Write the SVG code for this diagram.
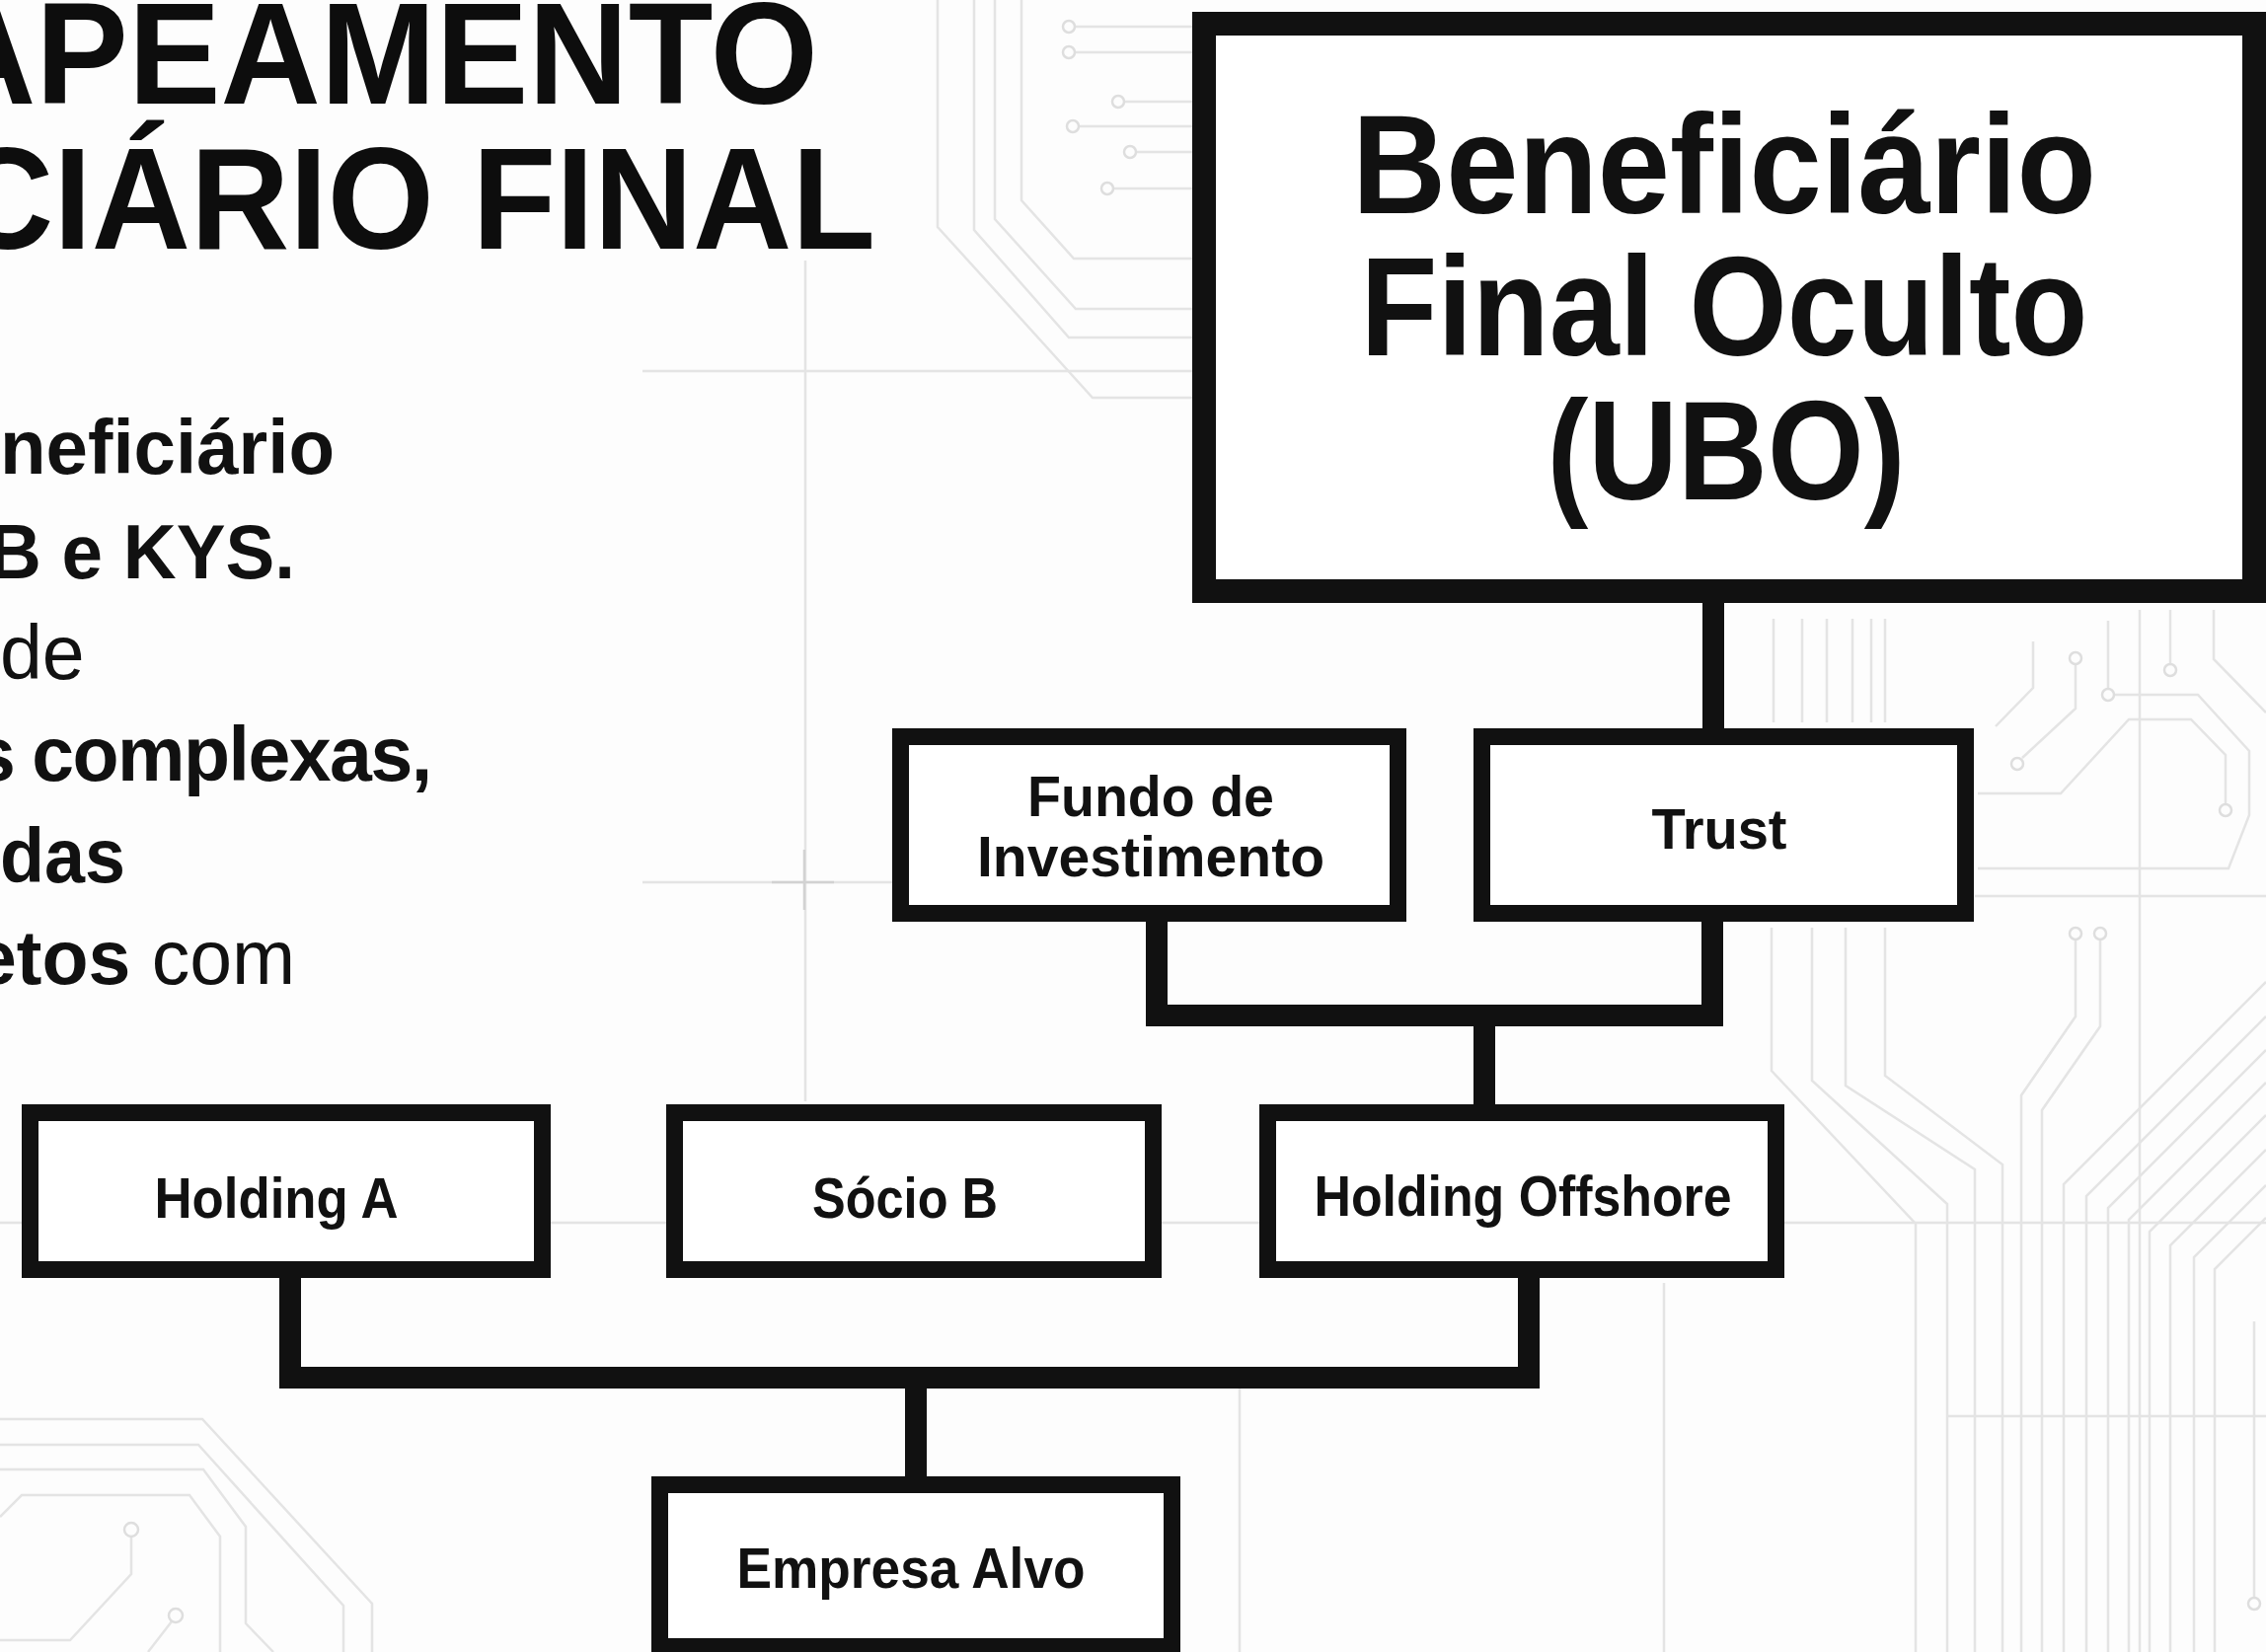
<svg xmlns="http://www.w3.org/2000/svg" width="2296" height="1674" viewBox="0 0 2296 1674">
<defs>
<style>
.bg{fill:#fdfdfd}
.tr{fill:none;stroke:#e4e4e4;stroke-width:2.5}
.pad{fill:#fdfdfd;stroke:#dedede;stroke-width:2.5}
.cross{fill:none;stroke:#d2d2d2;stroke-width:2.5}
.box{fill:#ffffff;stroke:#111111;stroke-width:17}
.ubo{fill:#ffffff;stroke:#111111;stroke-width:24}
.conn{fill:none;stroke:#111111;stroke-width:22;stroke-linejoin:miter;stroke-linecap:butt}
.nt{font-family:"Liberation Sans",Arial,Helvetica,sans-serif;font-weight:700;font-size:57px;fill:#111111;text-anchor:middle}
.ut{font-family:"Liberation Sans",Arial,Helvetica,sans-serif;font-weight:700;font-size:142px;fill:#111111;text-anchor:middle}
.title{font-family:"Liberation Sans",Arial,Helvetica,sans-serif;font-weight:700;font-size:146px;fill:#0d0d0d}
.para{font-family:"Liberation Sans",Arial,Helvetica,sans-serif;font-size:77px;fill:#111111}
.b{font-weight:700}
.r{font-weight:400}
</style>
</defs>
<rect class="bg" x="0" y="0" width="2296" height="1674"/>

<g id="background">
<path class="tr" d="M950 0 V230 L1107 403 H1208"/>
<path class="tr" d="M987 0 V233 L1083 342 H1208"/>
<path class="tr" d="M1008 0 V222 L1090 313 H1208"/>
<path class="tr" d="M1035 0 V203 L1088 262 H1208"/>
<path class="tr" d="M1089 27 H1208 M1089 53 H1208 M1139 103 H1208 M1093 128 H1208 M1151 154 H1208 M1128 191 H1208"/>
<circle class="pad" cx="1083" cy="27" r="6"/>
<circle class="pad" cx="1083" cy="53" r="6"/>
<circle class="pad" cx="1133" cy="103" r="6"/>
<circle class="pad" cx="1087" cy="128" r="6"/>
<circle class="pad" cx="1145" cy="154" r="6"/>
<circle class="pad" cx="1122" cy="191" r="6"/>
<path class="tr" d="M651 376 H1208"/>
<path class="tr" d="M816 264 V1116"/>
<path class="tr" d="M651 894 H904"/>
<path class="cross" d="M782 894 H845 M815 861 V922"/>
<path class="tr" d="M0 1239 H2296"/>
<path class="tr" d="M1256 1400 V1674 M1686 1300 V1674"/>

<path class="tr" d="M1797 627 V732 M1826 627 V732 M1851 627 V732 M1877 627 V732 M1896 627 V732 M1910 627 V732"/>
<path class="tr" d="M1795 940 V1085 L1941 1240 V1674"/>
<path class="tr" d="M1836 940 V1095 L1973 1220 V1674"/>
<path class="tr" d="M1870 940 V1100 L2001 1185 V1674"/>
<path class="tr" d="M1910 940 V1090 L2029 1180 V1674"/>
<path class="tr" d="M2103 952 V1030 L2048 1110 V1674"/>
<path class="tr" d="M2128 952 V1040 L2069 1125 V1674"/>
<circle class="pad" cx="2103" cy="946" r="6"/>
<circle class="pad" cx="2128" cy="946" r="6"/>
<path class="tr" d="M2296 995 L2091 1200 V1674"/>
<path class="tr" d="M2296 1030 L2114 1212 V1674"/>
<path class="tr" d="M2296 1064 L2136 1224 V1674"/>
<path class="tr" d="M2296 1097 L2157 1236 V1674"/>
<path class="tr" d="M2296 1130 L2178 1248 V1674"/>
<path class="tr" d="M2296 1165 L2199 1262 V1674"/>
<path class="tr" d="M2296 1201 L2223 1274 V1674"/>
<path class="tr" d="M2296 1234 L2244 1286 V1674"/>
<path class="tr" d="M2060 650 V697 L2022 736"/>
<path class="tr" d="M2103 673 V718 L2049 768"/>
<circle class="pad" cx="2103" cy="667" r="6"/>
<circle class="pad" cx="2044" cy="774" r="6"/>
<path class="tr" d="M2136 629 V698 M2142 704 H2227 L2279 761 V826 L2258 880 H2004"/>
<circle class="pad" cx="2136" cy="704" r="6"/>
<path class="tr" d="M2004 804 H2088 L2157 729 H2220 L2255 765 V815"/>
<circle class="pad" cx="2255" cy="821" r="6"/>
<path class="tr" d="M2199 618 V673"/>
<circle class="pad" cx="2199" cy="679" r="6"/>
<path class="tr" d="M2243 618 V668 L2296 722"/>
<path class="tr" d="M2001 908 H2296"/>
<path class="tr" d="M2168 618 V1674"/>
<path class="tr" d="M1973 1435 H2296"/>
<path class="tr" d="M2284 1339 V1619"/>
<circle class="pad" cx="2284" cy="1625" r="6"/>

<path class="tr" d="M0 1438 H205 L377 1625 V1674"/>
<path class="tr" d="M0 1464 H201 L348 1627 V1674"/>
<path class="tr" d="M0 1489 H206 L249 1547 V1645 L277 1674"/>
<path class="tr" d="M0 1537 L22 1515 H192 L223 1557 V1674"/>
<path class="tr" d="M133 1557 V1595 L71 1662 H0"/>
<circle class="pad" cx="133" cy="1550" r="7"/>
<path class="tr" d="M174 1643 L150 1674"/>
<circle class="pad" cx="178" cy="1637" r="7"/>
</g>

<g id="title">
<text class="title" x="-65" y="105" textLength="894" lengthAdjust="spacingAndGlyphs">APEAMENTO</text>
<text class="title" x="-46" y="252" textLength="933" lengthAdjust="spacingAndGlyphs">CIÁRIO FINAL</text>
</g>

<g id="paragraph">
<text class="para b" x="0" y="480" textLength="339" lengthAdjust="spacingAndGlyphs">neficiário</text>
<text class="para b" x="-12" y="586" textLength="311" lengthAdjust="spacingAndGlyphs">B e KYS.</text>
<text class="para r" x="0" y="688">de</text>
<text class="para b" x="-27" y="791" letter-spacing="-1.5" word-spacing="-2">s complexas,</text>
<text class="para b" x="0" y="894" textLength="127" lengthAdjust="spacingAndGlyphs">das</text>
<text class="para" x="-26" y="997"><tspan class="b">etos</tspan><tspan class="r"> com</tspan></text>
</g>

<g id="connectors">
<path class="conn" d="M1736 605 V742"/>
<path class="conn" d="M1172 930 V1029 H1735 V930"/>
<path class="conn" d="M1504 1029 V1124"/>
<path class="conn" d="M294 1290 V1396 H1549 V1290"/>
<path class="conn" d="M928 1396 V1500"/>
</g>

<g id="node-ubo">
<rect class="ubo" x="1220" y="24" width="1064" height="575"/>
<text class="ut" x="1747" y="216" textLength="754" lengthAdjust="spacingAndGlyphs">Beneficiário</text>
<text class="ut" x="1747" y="360" textLength="737" lengthAdjust="spacingAndGlyphs">Final Oculto</text>
<text class="ut" x="1749" y="506" textLength="363" lengthAdjust="spacingAndGlyphs">(UBO)</text>
</g>

<g id="node-fundo">
<rect class="box" x="912.5" y="746.5" width="504" height="179"/>
<text class="nt" x="1166" y="827" textLength="250" lengthAdjust="spacingAndGlyphs">Fundo de</text>
<text class="nt" x="1166" y="888" textLength="352" lengthAdjust="spacingAndGlyphs">Investimento</text>
</g>

<g id="node-trust">
<rect class="box" x="1501.5" y="746.5" width="490" height="179"/>
<text class="nt" x="1742" y="860" textLength="137" lengthAdjust="spacingAndGlyphs">Trust</text>
</g>

<g id="node-holding-a">
<rect class="box" x="30.5" y="1127.5" width="519" height="159"/>
<text class="nt" x="280" y="1234" textLength="247" lengthAdjust="spacingAndGlyphs">Holding A</text>
</g>

<g id="node-socio-b">
<rect class="box" x="683.5" y="1127.5" width="485" height="159"/>
<text class="nt" x="917" y="1234" textLength="188" lengthAdjust="spacingAndGlyphs">Sócio B</text>
</g>

<g id="node-holding-offshore">
<rect class="box" x="1284.5" y="1127.5" width="515" height="159"/>
<text class="nt" x="1543" y="1232" textLength="423" lengthAdjust="spacingAndGlyphs">Holding Offshore</text>
</g>

<g id="node-empresa-alvo">
<rect class="box" x="668.5" y="1504.5" width="519" height="164"/>
<text class="nt" x="923" y="1609" textLength="353" lengthAdjust="spacingAndGlyphs">Empresa Alvo</text>
</g>
</svg>
